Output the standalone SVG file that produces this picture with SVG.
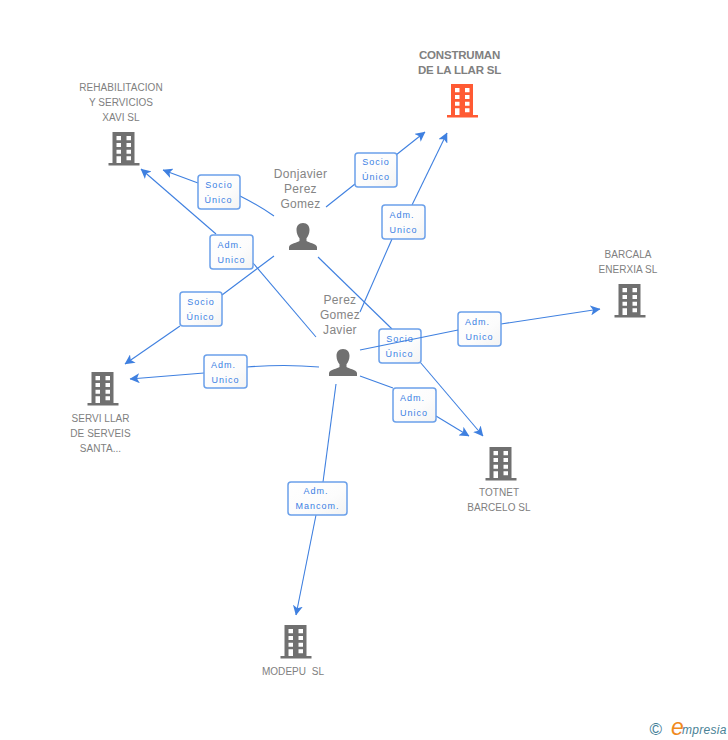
<svg xmlns="http://www.w3.org/2000/svg" width="728" height="740" viewBox="0 0 728 740">
<style>
text{font-family:"Liberation Sans",Arial,sans-serif}
.n{font-size:10px;fill:#808080;text-anchor:middle;letter-spacing:.05px}
.t{font-size:11.500px;font-weight:bold;fill:#808080;text-anchor:middle;letter-spacing:-.2px}
.p{font-size:12px;fill:#858585;text-anchor:middle;letter-spacing:.3px}
.l{font-size:9px;fill:#3b7fe4;text-anchor:middle;letter-spacing:1px}
.c{fill:none;stroke:#3f80e0;stroke-width:1.1}
.b{fill:url(#g);stroke:#6ba0ea;stroke-width:1.5}
</style>
<defs>
<linearGradient id="g" x1="0" y1="0" x2="1" y2="1"><stop offset="0" stop-color="#fff"/><stop offset=".6" stop-color="#fcfcfc"/><stop offset="1" stop-color="#f3f3f3"/></linearGradient>
<marker id="a" viewBox="0 0 10 10" refX="9.5" refY="5" markerWidth="10" markerHeight="10" markerUnits="userSpaceOnUse" orient="auto"><path d="M0 0L10 5L0 10L2.500 5Z" fill="#3f80e0"/></marker>
<symbol id="bd" viewBox="0 0 32 34" width="32" height="34" overflow="visible">
<path fill-rule="evenodd" d="M4.500 0H26.500V31H31.500V33.500H.5V31H4.500ZM8.500 4v4.300h4.500V4ZM18.500 4v4.300h4.500V4ZM8.500 11v4h4.500v-4ZM18.500 11v4h4.500v-4ZM8.500 17.700v4h4.500v-4ZM18.500 17.700v4h4.500v-4ZM8.500 24.300V31h4.500v-6.700ZM18.500 24.300v4h4.500v-4Z"/>
</symbol>
<symbol id="pr" viewBox="0 0 28 27" width="28" height="27">
<path d="M14 0c4.400 0 6.500 3 6.500 7 0 3.500-1.500 6.500-3 8.300v2.700c1.500 1.500 10 2.500 10.500 6V27H0v-3c.5-3.500 9-4.500 10.500-6v-2.700C9 13.500 7.500 10.500 7.500 7 7.500 3 9.600 0 14 0Z" fill="#707070"/>
</symbol>
</defs>
<g id="connectors">
<path class="c" d="M326 207L355 184"/><path class="c" marker-end="url(#a)" d="M396 155L425 132"/>
<path class="c" d="M360 312L392 239"/><path class="c" marker-end="url(#a)" d="M412 205L447 133"/>
<path class="c" d="M274 216Q258 205 240 196"/><path class="c" marker-end="url(#a)" d="M198 183L163 170"/>
<path class="c" d="M316 337L253 263"/><path class="c" marker-end="url(#a)" d="M216 234L141 169"/>
<path class="c" d="M274 256L222 295"/><path class="c" marker-end="url(#a)" d="M180 326L125 364"/>
<path class="c" d="M319 367Q285 364 247 367"/><path class="c" marker-end="url(#a)" d="M204 373L130 379"/>
<path class="c" d="M318 257L392 329"/><path class="c" marker-end="url(#a)" d="M420 362L483 436"/>
<path class="c" d="M360 376L393 388"/><path class="c" marker-end="url(#a)" d="M436 416L469 436"/>
<path class="c" d="M336 384L323 482"/><path class="c" marker-end="url(#a)" d="M316 515L296 615"/>
<path class="c" marker-end="url(#a)" d="M501 324L600 309"/>
</g>
<g id="edge-labels">
<g id="e1"><rect class="b" x="355" y="153" width="42" height="34" rx="3"/><text class="l" x="376" y="165">Socio</text><text class="l" x="376" y="180">Único</text></g>
<g id="e2"><rect class="b" x="382" y="205" width="43" height="34" rx="3"/><text class="l" x="402" y="218">Adm.</text><text class="l" x="403.500" y="233">Unico</text></g>
<g id="e3"><rect class="b" x="198" y="175" width="42" height="34" rx="3"/><text class="l" x="219" y="188">Socio</text><text class="l" x="218.500" y="203">Único</text></g>
<g id="e4"><rect class="b" x="210" y="235" width="43" height="34" rx="3"/><text class="l" x="230" y="248">Adm.</text><text class="l" x="231.500" y="263">Unico</text></g>
<g id="e5"><rect class="b" x="180" y="292" width="42" height="34" rx="3"/><text class="l" x="201" y="305">Socio</text><text class="l" x="200.500" y="320">Único</text></g>
<g id="e6"><rect class="b" x="204" y="355" width="43" height="33" rx="3"/><text class="l" x="223.500" y="368">Adm.</text><text class="l" x="225.500" y="383">Unico</text></g>
<g id="e7"><rect class="b" x="379" y="329" width="42" height="34" rx="3"/><text class="l" x="400" y="342">Socio</text><text class="l" x="399.500" y="357">Único</text></g>
<g id="e8"><rect class="b" x="458" y="312" width="43" height="34" rx="3"/><text class="l" x="477.500" y="325">Adm.</text><text class="l" x="479.500" y="340">Unico</text></g>
<g id="e9"><rect class="b" x="393" y="388" width="43" height="34" rx="3"/><text class="l" x="412.500" y="401">Adm.</text><text class="l" x="414" y="416">Unico</text></g>
<g id="e10"><rect class="b" x="288" y="482" width="59" height="33" rx="3"/><text class="l" x="316" y="494">Adm.</text><text class="l" x="317.500" y="509">Mancom.</text></g>
</g>
<path class="c" d="M360 350L458 330"/>
<g id="construman" fill="#ff5a33"><use href="#bd" x="446.500" y="84"/><text class="t" x="459.500" y="59">CONSTRUMAN</text><text class="t" x="459.500" y="74">DE LA LLAR SL</text></g>
<g id="rehabilitacion" fill="#707070"><use href="#bd" x="108" y="132"/><text class="n" x="121" y="91">REHABILITACION</text><text class="n" x="121" y="106">Y SERVICIOS</text><text class="n" x="121" y="121">XAVI SL</text></g>
<g id="barcala" fill="#707070"><use href="#bd" x="614" y="284"/><text class="n" x="628" y="258">BARCALA</text><text class="n" x="628" y="273">ENERXIA SL</text></g>
<g id="servillar" fill="#707070"><use href="#bd" x="87" y="372"/><text class="n" x="100.500" y="422">SERVI LLAR</text><text class="n" x="100.500" y="437">DE SERVEIS</text><text class="n" x="100.500" y="452">SANTA...</text></g>
<g id="totnet" fill="#707070"><use href="#bd" x="485" y="447"/><text class="n" x="499" y="496">TOTNET</text><text class="n" x="499" y="511">BARCELO SL</text></g>
<g id="modepu" fill="#707070"><use href="#bd" x="280" y="625"/><text class="n" x="293" y="675" xml:space="preserve">MODEPU  SL</text></g>
<g id="donjavier"><use href="#pr" x="289" y="223"/><text class="p" x="300.500" y="178">Donjavier</text><text class="p" x="300.500" y="193">Perez</text><text class="p" x="300.500" y="208">Gomez</text></g>
<g id="perez"><use href="#pr" x="329" y="349"/><text class="p" x="340" y="304">Perez</text><text class="p" x="340" y="319">Gomez</text><text class="p" x="340" y="334">Javier</text></g>
<g id="logo"><text x="649.500" y="735" font-size="17" fill="#3f7d96">©</text><text x="671" y="735" font-size="23" font-style="italic" fill="#f08a1d" font-family="Liberation Serif">e</text><text x="682" y="734" font-size="12" font-style="italic" fill="#4a8296" letter-spacing=".3">mpresia</text></g>
</svg>
